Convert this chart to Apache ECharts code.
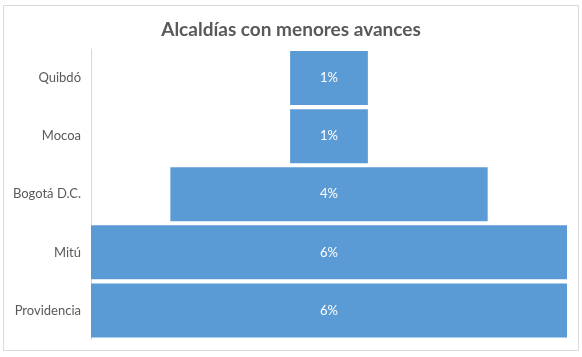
<!DOCTYPE html>
<html>
<head>
<meta charset="utf-8">
<script src="https://cdn.jsdelivr.net/npm/echarts@6/dist/echarts.min.js"></script>
<style>html,body{margin:0;padding:0;background:#fff;}#c{width:582px;height:357px;}</style>
</head>
<body>
<div id="c"></div>
<script>
const categories = ['Quibdó', 'Mocoa', 'Bogotá D.C.', 'Mitú', 'Providencia'];
const values = [0.98, 0.98, 4.0, 6.0, 6.0];
const maxValue = Math.max(...values);
const offsets = values.map(v => (maxValue - v) / 2);

const chart = echarts.init(document.getElementById('c'), null, {renderer: 'canvas'});
chart.setOption({
  animation: false,
  backgroundColor: '#fff',
  title: {
    text: 'Alcaldías con menores avances',
    left: 'center',
    top: 15,
    textStyle: {fontFamily: 'Lato', fontSize: 19, fontWeight: 'bold', color: '#595959'}
  },
  graphic: [{
    type: 'rect', shape: {x: 3.5, y: 5.5, width: 575, height: 345},
    style: {fill: 'none', stroke: '#d9d9d9', lineWidth: 1}, silent: true
  }],
  grid: {left: 91, right: 15, top: 49, bottom: 17.5},
  xAxis: {type: 'value', min: 0, max: maxValue, show: false},
  yAxis: {
    type: 'category', data: categories, inverse: true,
    axisLine: {show: true, lineStyle: {color: '#d9d9d9', width: 1}},
    axisTick: {show: false},
    axisLabel: {fontFamily: 'Lato', fontSize: 13, color: '#595959', margin: 10}
  },
  series: [
    {type: 'bar', stack: 's', data: offsets, itemStyle: {color: 'transparent'}, barCategoryGap: '7%', silent: true},
    {type: 'bar', stack: 's', data: values, barCategoryGap: '7%',
     itemStyle: {color: '#5b9bd5'},
     label: {show: true, position: 'inside', color: '#fff', fontFamily: 'Lato', fontSize: 13,
             formatter: p => Math.round(p.value) + '%'}}
  ]
});
</script>
</body>
</html>
